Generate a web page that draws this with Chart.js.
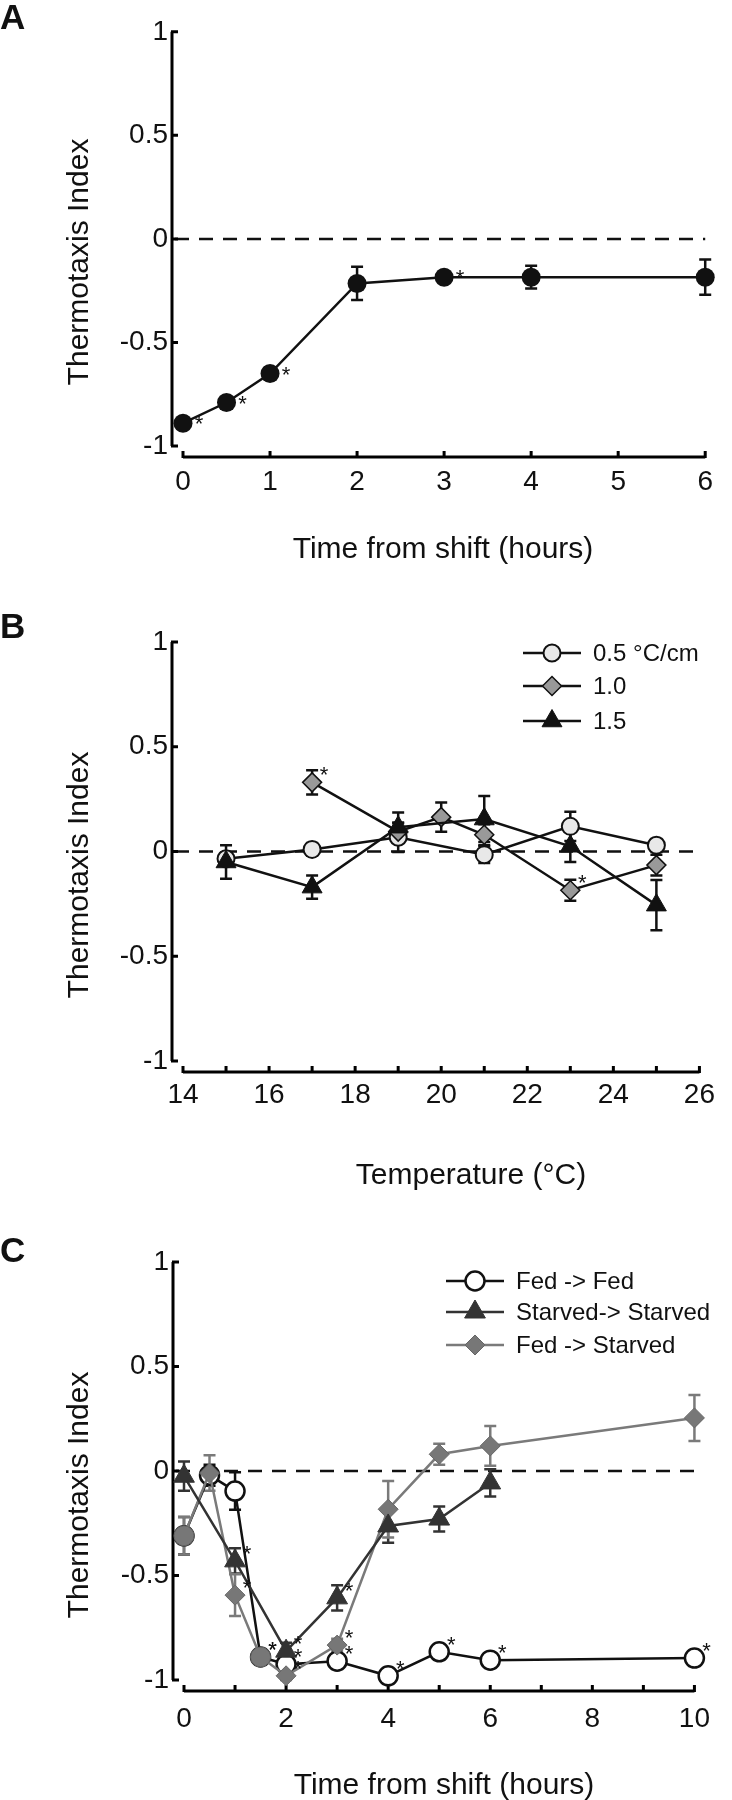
<!DOCTYPE html>
<html>
<head>
<meta charset="utf-8">
<script src="https://cdn.jsdelivr.net/npm/chart.js@4.4.1/dist/chart.umd.min.js"></script>
<style>
  html, body { margin: 0; padding: 0; background: #fff; }
  #page { position: relative; width: 732px; height: 1800px; }
  #page canvas { position: absolute; left: 0; }
</style>
</head>
<body>
<div id="page">
  <canvas id="chartA" width="732" height="580" style="top:0px"></canvas>
  <canvas id="chartB" width="732" height="610" style="top:580px"></canvas>
  <canvas id="chartC" width="732" height="610" style="top:1190px"></canvas>
</div>
<script>
// ---- data ----
const yTicks = [-1, -0.5, 0, 0.5, 1];
const yTitle = 'Thermotaxis Index';

// A: thermotaxis after the shift
const hoursA = [0, 0.5, 1, 2, 3, 4, 6];
const indexA = [-0.89, -0.79, -0.65, -0.215, -0.185, -0.185, -0.185];
const semA = [0.02, 0.02, 0.03, 0.08, 0.02, 0.055, 0.085];
const sigA = [1, 1, 1, 0, 1, 0, 0];
const xTicksA = [0, 1, 2, 3, 4, 5, 6];
const xLabelsA = [0, 1, 2, 3, 4, 5, 6];
const xTitleA = 'Time from shift (hours)';

// B: gradient steepness vs temperature
const gradientNames = ['0.5 °C/cm', '1.0', '1.5'];
const temp05 = [15, 17, 19, 21, 23, 25];
const index05 = [-0.035, 0.01, 0.068, -0.015, 0.12, 0.03];
const sem05 = [0.03, 0.03, 0.07, 0.04, 0.07, 0.03];
const temp10 = [17, 19, 20, 21, 23, 25];
const index10 = [0.33, 0.095, 0.164, 0.08, -0.185, -0.065];
const sem10 = [0.058, 0.04, 0.07, 0.05, 0.05, 0.05];
const sig10 = [1, 0, 0, 0, 1, 0];
const temp15 = [15, 17, 19, 21, 23, 25];
const index15 = [-0.05, -0.17, 0.116, 0.155, 0.025, -0.256];
const sem15 = [0.08, 0.055, 0.07, 0.11, 0.075, 0.12];
const xTicksB = [14, 15, 16, 17, 18, 19, 20, 21, 22, 23, 24, 25, 26];
const xLabelsB = [14, 16, 18, 20, 22, 24, 26];
const xTitleB = 'Temperature (°C)';

// C: feeding state
const feedingNames = ['Fed -> Fed', 'Starved-> Starved', 'Fed -> Starved'];
const hoursFed = [0, 0.5, 1, 1.5, 2, 3, 4, 5, 6, 10];
const fedFed = [-0.31, -0.02, -0.096, -0.89, -0.925, -0.91, -0.98, -0.865, -0.905, -0.895];
const fedFedSem = [0.09, 0.05, 0.09, 0.02, 0.02, 0.02, 0.03, 0.02, 0.02, 0.02];
const fedFedSig = [0, 0, 0, 1, 1, 1, 1, 1, 1, 1];
const hoursStarved = [0, 1, 2, 3, 4, 5, 6];
const starvedStarved = [-0.025, -0.43, -0.862, -0.607, -0.263, -0.23, -0.057];
const starvedSem = [0.07, 0.06, 0.04, 0.06, 0.08, 0.06, 0.065];
const starvedSig = [0, 1, 1, 1, 0, 0, 0];
const fedStarved = [-0.31, -0.01, -0.594, -0.89, -0.98, -0.833, -0.183, 0.08, 0.12, 0.254];
const fedStarvedSem = [0.09, 0.085, 0.1, 0.02, 0.02, 0.03, 0.135, 0.05, 0.095, 0.11];
const fedStarvedSig = [0, 0, 1, 1, 1, 1, 0, 0, 0, 0];
const xTicksC = [0, 1, 2, 3, 4, 5, 6, 7, 8, 9, 10];
const xLabelsC = [0, 2, 4, 6, 8, 10];
const xTitleC = 'Time from shift (hours)';

const FONT = "'Liberation Sans', Arial, Helvetica, sans-serif";
const INK = '#111';
Chart.defaults.font.family = FONT;

function series(xs, ys, sem, sig, style) {
    return Object.assign({
        data: xs.map((x, i) => ({ x: x, y: ys[i] })),
        sem: sem,
        sig: sig || [],
        showLine: true,
        tension: 0,
        clip: false
    }, style);
}

function drawMarker(ctx, style, x, y, r, fill, stroke, lw) {
    ctx.beginPath();
    if (style === 'circle') {
        ctx.arc(x, y, r, 0, Math.PI * 2);
    } else if (style === 'rectRot') {
        ctx.moveTo(x - r, y); ctx.lineTo(x, y - r); ctx.lineTo(x + r, y); ctx.lineTo(x, y + r);
        ctx.closePath();
    } else {
        ctx.moveTo(x, y - r); ctx.lineTo(x + r * 0.866, y + r / 2); ctx.lineTo(x - r * 0.866, y + r / 2);
        ctx.closePath();
    }
    ctx.fillStyle = fill;
    ctx.fill();
    if (lw) { ctx.lineWidth = lw; ctx.strokeStyle = stroke; ctx.stroke(); }
}

// axes offset from the data area, dashed zero line, error bars, stars, titles, legend
const panelDecor = {
    id: 'panelDecor',
    beforeDatasetsDraw(chart, args, opts) {
        const { ctx, chartArea: area } = chart;
        const x = chart.scales.x, y = chart.scales.y;
        const axX = area.left - opts.gap;
        const axY = area.bottom + opts.gap;
        ctx.save();
        ctx.strokeStyle = INK;
        ctx.lineWidth = 2.5;
        ctx.setLineDash([14, 10]);
        ctx.beginPath();
        ctx.moveTo(axX + 3, y.getPixelForValue(0));
        ctx.lineTo(area.right, y.getPixelForValue(0));
        ctx.stroke();
        ctx.setLineDash([]);

        ctx.strokeStyle = '#000';
        ctx.lineWidth = 3;
        ctx.beginPath();
        ctx.moveTo(axX, y.getPixelForValue(1));
        ctx.lineTo(axX, y.getPixelForValue(-1));
        yTicks.forEach(v => {
            const py = y.getPixelForValue(v);
            ctx.moveTo(axX - 1, py);
            ctx.lineTo(axX + 6, py);
        });
        ctx.moveTo(x.getPixelForValue(x.min), axY);
        ctx.lineTo(x.getPixelForValue(x.max), axY);
        opts.xTicks.forEach(v => {
            const px = x.getPixelForValue(v);
            ctx.moveTo(px, axY + 1);
            ctx.lineTo(px, axY - 6);
        });
        ctx.stroke();

        chart.data.datasets.forEach((ds, i) => {
            const meta = chart.getDatasetMeta(i);
            ctx.strokeStyle = ds.errColor;
            ctx.lineWidth = 2.5;
            ds.data.forEach((p, j) => {
                const e = ds.sem[j];
                if (!e) return;
                const px = meta.data[j].x;
                const top = y.getPixelForValue(p.y + e);
                const bot = y.getPixelForValue(p.y - e);
                ctx.beginPath();
                ctx.moveTo(px, top); ctx.lineTo(px, bot);
                ctx.moveTo(px - 6, top); ctx.lineTo(px + 6, top);
                ctx.moveTo(px - 6, bot); ctx.lineTo(px + 6, bot);
                ctx.stroke();
            });
        });
        ctx.restore();
    },
    afterDatasetsDraw(chart, args, opts) {
        const ctx = chart.ctx;
        ctx.save();
        ctx.fillStyle = INK;
        ctx.font = '22px ' + FONT;
        ctx.textAlign = 'center';
        ctx.textBaseline = 'alphabetic';
        chart.data.datasets.forEach((ds, i) => {
            const meta = chart.getDatasetMeta(i);
            ds.sig.forEach((s, j) => {
                if (!s) return;
                const el = meta.data[j];
                ctx.fillText('*', el.x + opts.star.dx, el.y + opts.star.dy + 12);
            });
        });
        ctx.restore();
    },
    afterDraw(chart, args, opts) {
        const ctx = chart.ctx;
        ctx.save();
        ctx.fillStyle = INK;
        ctx.textBaseline = 'alphabetic';

        ctx.font = 'bold 35px ' + FONT;
        ctx.textAlign = 'left';
        ctx.fillText(opts.letter.text, opts.letter.x, opts.letter.y);

        ctx.font = '30px ' + FONT;
        ctx.textAlign = 'center';
        ctx.fillText(opts.xTitle.text, opts.xTitle.x, opts.xTitle.y);

        ctx.save();
        ctx.translate(opts.yTitle.x, opts.yTitle.y);
        ctx.rotate(-Math.PI / 2);
        ctx.fillText(opts.yTitle.text, 0, 0);
        ctx.restore();

        if (opts.legend) {
            const lg = opts.legend;
            ctx.font = '24px ' + FONT;
            ctx.textAlign = 'left';
            ctx.textBaseline = 'middle';
            chart.data.datasets.forEach((ds, i) => {
                const ry = lg.rows[i];
                ctx.strokeStyle = ds.borderColor;
                ctx.lineWidth = ds.borderWidth;
                ctx.beginPath();
                ctx.moveTo(lg.x0, ry);
                ctx.lineTo(lg.x1, ry);
                ctx.stroke();
                drawMarker(ctx, ds.legendStyle, (lg.x0 + lg.x1) / 2, ry, ds.legendRadius,
                    ds.legendFill, ds.pointBorderColor, ds.pointBorderWidth);
                ctx.fillStyle = INK;
                ctx.fillText(ds.label, lg.tx, ry + 1);
            });
        }
        ctx.restore();
    }
};

function buildPanel(canvasId, panel) {
    return new Chart(document.getElementById(canvasId), {
        type: 'line',
        data: { datasets: panel.datasets },
        options: {
            responsive: false,
            animation: false,
            devicePixelRatio: 1,
            layout: { padding: { top: panel.top, right: panel.right, left: 0, bottom: 0 } },
            scales: {
                x: {
                    type: 'linear',
                    min: panel.xTicks[0],
                    max: panel.xTicks[panel.xTicks.length - 1],
                    afterFit: s => { s.height = panel.canvasHeight - panel.bottom; },
                    afterBuildTicks: s => { s.ticks = panel.xTicks.map(v => ({ value: v })); },
                    grid: { display: false, drawTicks: false },
                    border: { display: false },
                    ticks: {
                        autoSkip: false,
                        maxRotation: 0,
                        padding: panel.xLabelPad,
                        color: INK,
                        font: { size: 28 },
                        callback: v => panel.xLabels.includes(v) ? String(v) : ''
                    }
                },
                y: {
                    type: 'linear',
                    min: -1,
                    max: 1,
                    afterFit: s => { s.width = panel.left; },
                    afterBuildTicks: s => { s.ticks = yTicks.map(v => ({ value: v })); },
                    grid: { display: false, drawTicks: false },
                    border: { display: false },
                    ticks: { padding: 15, color: INK, font: { size: 28 }, callback: v => String(v) }
                }
            },
            plugins: {
                legend: { display: false },
                tooltip: { enabled: false },
                panelDecor: panel.decor
            }
        },
        plugins: [panelDecor]
    });
}

document.addEventListener('DOMContentLoaded', () => {
    buildPanel('chartA', {
        canvasHeight: 580, top: 27, bottom: 446, left: 183, right: 18, xLabelPad: 19,
        xTicks: xTicksA, xLabels: xLabelsA,
        datasets: [
            series(hoursA, indexA, semA, sigA, {
                borderColor: INK, borderWidth: 2.5, errColor: INK,
                pointStyle: 'circle', pointRadius: 9.5, pointBackgroundColor: INK,
                pointBorderColor: INK, pointBorderWidth: 0
            })
        ],
        decor: {
            gap: 11, xTicks: xTicksA, star: { dx: 16, dy: -4 },
            letter: { text: 'A', x: 0, y: 29 },
            xTitle: { text: xTitleA, x: 443, y: 558 },
            yTitle: { text: yTitle, x: 88, y: 262 }
        }
    });

    buildPanel('chartB', {
        canvasHeight: 610, top: 62, bottom: 481, left: 183, right: 18, xLabelPad: 17,
        xTicks: xTicksB, xLabels: xLabelsB,
        datasets: [
            series(temp05, index05, sem05, null, {
                label: gradientNames[0], order: 2,
                borderColor: INK, borderWidth: 2.5, errColor: INK,
                pointStyle: 'circle', pointRadius: 8.5, pointBackgroundColor: '#e8e8e8',
                pointBorderColor: INK, pointBorderWidth: 2,
                legendStyle: 'circle', legendRadius: 8.5, legendFill: '#e8e8e8'
            }),
            series(temp10, index10, sem10, sig10, {
                label: gradientNames[1], order: 1,
                borderColor: INK, borderWidth: 2.5, errColor: INK,
                pointStyle: 'rectRot', pointRadius: 9.5, pointBackgroundColor: '#999',
                pointBorderColor: INK, pointBorderWidth: 1.5,
                legendStyle: 'rectRot', legendRadius: 9.5, legendFill: '#999'
            }),
            series(temp15, index15, sem15, null, {
                label: gradientNames[2], order: 0,
                borderColor: INK, borderWidth: 2.5, errColor: INK,
                pointStyle: 'triangle', pointRadius: 11.5, pointBackgroundColor: INK,
                pointBorderColor: INK, pointBorderWidth: 1,
                legendStyle: 'triangle', legendRadius: 11.5, legendFill: INK
            })
        ],
        decor: {
            gap: 11, xTicks: xTicksB, star: { dx: 12, dy: -12 },
            letter: { text: 'B', x: 0, y: 58 },
            xTitle: { text: xTitleB, x: 471, y: 604 },
            yTitle: { text: yTitle, x: 88, y: 295 },
            legend: { x0: 523, x1: 581, tx: 593, rows: [73, 106, 141] }
        }
    });

    buildPanel('chartC', {
        canvasHeight: 610, top: 72, bottom: 490, left: 184, right: 17, xLabelPad: 22,
        xTicks: xTicksC, xLabels: xLabelsC,
        datasets: [
            series(hoursFed, fedFed, fedFedSem, fedFedSig, {
                label: feedingNames[0], order: 2,
                borderColor: INK, borderWidth: 2.5, errColor: INK,
                pointStyle: 'circle', pointRadius: 9.5, pointBackgroundColor: '#fff',
                pointBorderColor: INK, pointBorderWidth: 2.5,
                legendStyle: 'circle', legendRadius: 9.5, legendFill: '#fff'
            }),
            series(hoursStarved, starvedStarved, starvedSem, starvedSig, {
                label: feedingNames[1], order: 0,
                borderColor: '#333', borderWidth: 2.5, errColor: '#333',
                pointStyle: 'triangle', pointRadius: 12, pointBackgroundColor: '#333',
                pointBorderColor: '#333', pointBorderWidth: 1,
                legendStyle: 'triangle', legendRadius: 12, legendFill: '#333'
            }),
            series(hoursFed, fedStarved, fedStarvedSem, fedStarvedSig, {
                label: feedingNames[2], order: 1,
                borderColor: '#7a7a7a', borderWidth: 2.5, errColor: '#7a7a7a',
                pointStyle: ['circle', 'rectRot', 'rectRot', 'circle', 'rectRot', 'rectRot', 'rectRot', 'rectRot', 'rectRot', 'rectRot'],
                pointRadius: 10, pointBackgroundColor: '#777',
                pointBorderColor: '#666', pointBorderWidth: 1,
                legendStyle: 'rectRot', legendRadius: 10, legendFill: '#777'
            })
        ],
        decor: {
            gap: 11, xTicks: xTicksC, star: { dx: 12, dy: -12 },
            letter: { text: 'C', x: 0, y: 72 },
            xTitle: { text: xTitleC, x: 444, y: 604 },
            yTitle: { text: yTitle, x: 88, y: 305 },
            legend: { x0: 446, x1: 504, tx: 516, rows: [91, 122, 155] }
        }
    });
});
</script>
</body>
</html>
